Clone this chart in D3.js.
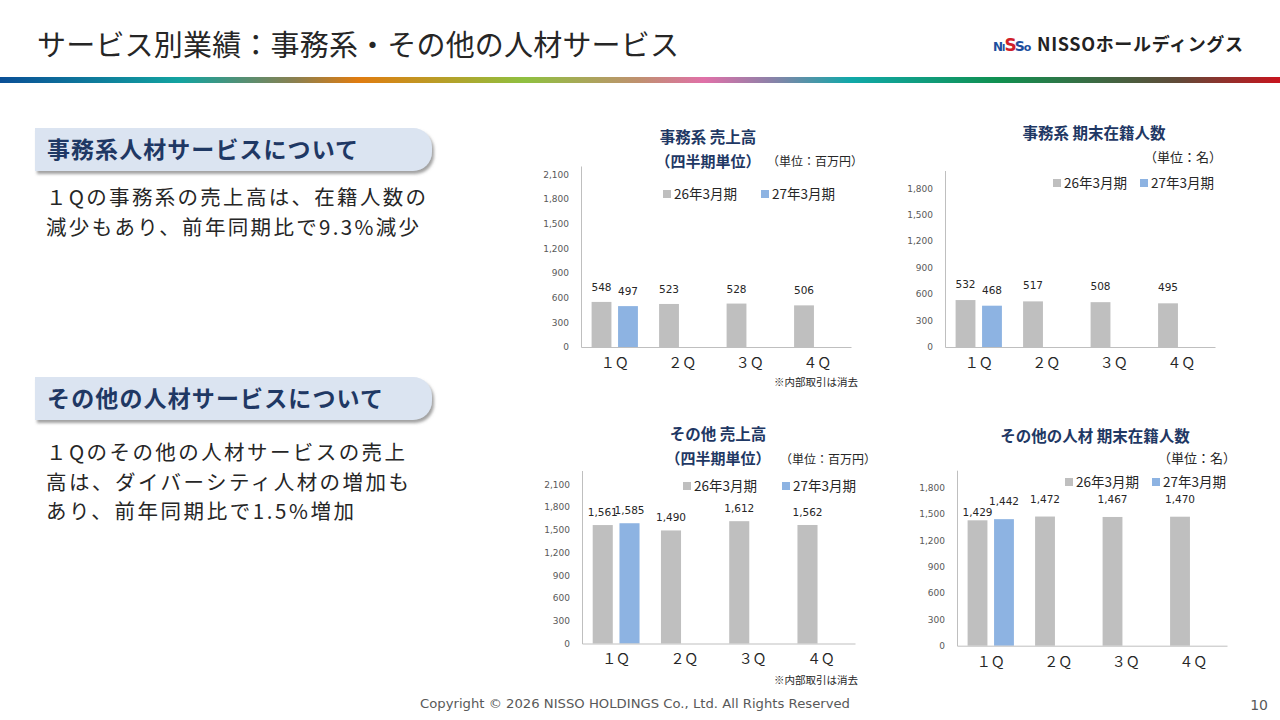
<!DOCTYPE html>
<meta charset="utf-8">
<title>サービス別業績</title>
<style>
body { margin: 0; background: #fff; }
svg { display: block; font-family: "Noto Sans CJK JP", sans-serif; }
.yaxis .tick text { font-family: "DejaVu Sans"; font-size: 9px; fill: #595959; }
.xaxis .tick text { font-family: "Noto Sans CJK JP"; font-size: 14px; fill: #262626; }
.axis path { stroke: #bfbfbf; }
.val { font-family: "DejaVu Sans"; font-size: 10.5px; fill: #262626; text-anchor: middle; }
</style>
<svg width="1280" height="720"></svg>
<script src="https://d3js.org/d3.v7.min.js"></script>
<script>

var quarters = ["１Ｑ", "２Ｑ", "３Ｑ", "４Ｑ"];
var seriesNames = ["26年3月期", "27年3月期"];

var jimuSales26 = [548, 523, 528, 506],
    jimuSales27 = [497];
var jimuStaff26 = [532, 517, 508, 495],
    jimuStaff27 = [468];
var otherSales26 = [1561, 1490, 1612, 1562],
    otherSales27 = [1585];
var otherStaff26 = [1429, 1472, 1467, 1470],
    otherStaff27 = [1442];

var salesTicks = [0, 300, 600, 900, 1200, 1500, 1800, 2100];
var staffTicks = [0, 300, 600, 900, 1200, 1500, 1800];

var colors = ["#bfbfbf", "#8db3e2"];
var navy = "#1f3864";

var svg = d3.select("svg");
var defs = svg.append("defs");

// rainbow rule under the title
var grad = defs.append("linearGradient").attr("id", "rule");
[[0, "#0a4f96"], [0.14, "#12a3a0"], [0.23, "#8a8050"], [0.28, "#e07c10"],
 [0.41, "#8fc040"], [0.5, "#c09070"], [0.55, "#e070a8"], [0.6, "#9080a8"],
 [0.665, "#10a8a8"], [0.78, "#109050"], [0.92, "#604a38"], [1, "#c8141e"]]
  .forEach(function(s) {
    grad.append("stop").attr("offset", s[0]).attr("stop-color", s[1]);
  });

var shadow = defs.append("filter").attr("id", "shadow")
    .attr("x", "-5%").attr("y", "-20%").attr("width", "115%").attr("height", "160%");
shadow.append("feDropShadow").attr("dx", 2).attr("dy", 3)
    .attr("stdDeviation", 1.5).attr("flood-color", "#8a8a8a").attr("flood-opacity", 0.8);

// header
svg.append("text").attr("x", 37).attr("y", 56)
    .attr("textLength", 642)
    .style("font-size", "29px").style("fill", "#262626")
    .text("サービス別業績：事務系・その他の人材サービス");

var logo = svg.append("text").attr("x", 993).attr("y", 51)
    .style("font-family", "DejaVu Sans").style("font-weight", "bold");
logo.append("tspan").style("font-size", "12px").style("fill", "#1d4e9e").text("N");
logo.append("tspan").style("font-size", "9px").style("fill", "#1d4e9e").attr("dx", -1).text("I");
logo.append("tspan").style("font-size", "17px").style("fill", "#d0202a").attr("dx", -1).text("S");
logo.append("tspan").style("font-size", "14px").style("fill", "#1d4e9e").attr("dx", -2).text("S");
logo.append("tspan").style("font-size", "11px").style("fill", "#1d4e9e").attr("dx", -1).text("o");

svg.append("text").attr("x", 1037).attr("y", 51)
    .attr("textLength", 206)
    .style("font-size", "18px").style("font-weight", "bold").style("fill", "#222")
    .text("NISSOホールディングス");

svg.append("rect").attr("x", 0).attr("y", 77).attr("width", 1280).attr("height", 6)
    .attr("fill", "url(#rule)");

// left side headings and comments
function heading(y, label, len) {
  var x0 = 35, x1 = 432, h = 43, r = 19;
  svg.append("path")
      .attr("d", "M" + x0 + "," + y + "H" + (x1 - r) + "A" + r + "," + r + " 0 0 1 " + x1 + "," + (y + r) +
                 "V" + (y + h - r) + "A" + r + "," + r + " 0 0 1 " + (x1 - r) + "," + (y + h) + "H" + x0 + "Z")
      .attr("fill", "#dbe4f1").attr("filter", "url(#shadow)");
  svg.append("text").attr("x", 47).attr("y", y + 30)
      .attr("textLength", len)
      .style("font-size", "23px").style("font-weight", "bold").style("fill", navy)
      .text(label);
}
heading(128, "事務系人材サービスについて", 311);
heading(377, "その他の人材サービスについて", 336);

function para(lines, lens, x, y) {
  lines.forEach(function(l, i) {
    svg.append("text").attr("x", x).attr("y", y + i * 29.5)
        .attr("textLength", lens[i])
        .style("font-size", "20.5px").style("fill", "#262626")
        .text(l);
  });
}
para(["１Qの事務系の売上高は、在籍人数の", "減少もあり、前年同期比で9.3%減少"],
     [380, 373], 46, 205);
para(["１Qのその他の人材サービスの売上", "高は、ダイバーシティ人材の増加も", "あり、前年同期比で1.5%増加"],
     [359, 363, 308], 46, 460);

// charts
var charts = [
  { left: 581, width: 270, base: 347, top: 166, max: 2200, ticks: salesTicks,
    data: [jimuSales26, jimuSales27], gap: 11, nudge: {},
    titles: [{ t: "事務系 売上高", x: 708, y: 143, b: true, s: 15.5 },
             { t: "（四半期単位）", x: 708, y: 167, b: true, s: 15 },
             { t: "（単位：百万円）", x: 815, y: 166, s: 12 }],
    legend: [663, 761, 190], note: [858, 386] },
  { left: 945, width: 270, base: 347, top: 170.5, max: 2000, ticks: staffTicks,
    data: [jimuStaff26, jimuStaff27], gap: 12, nudge: {},
    titles: [{ t: "事務系 期末在籍人数", x: 1094, y: 139, b: true, s: 15.5 },
             { t: "（単位：名）", x: 1183, y: 162, s: 13 }],
    legend: [1053, 1140, 179] },
  { left: 582, width: 273, base: 643.5, top: 470.5, max: 2280, ticks: salesTicks,
    data: [otherSales26, otherSales27], gap: 9, nudge: {},
    titles: [{ t: "その他 売上高", x: 718, y: 440, b: true, s: 15.5 },
             { t: "（四半期単位）", x: 718, y: 464, b: true, s: 15 },
             { t: "（単位：百万円）", x: 828, y: 464, s: 12 }],
    legend: [683, 782, 482], note: [858, 684] },
  { left: 957, width: 270, base: 645.7, top: 470.2, max: 2000, ticks: staffTicks,
    data: [otherStaff26, otherStaff27], gap: 14, nudge: { "0-0": 10 },
    titles: [{ t: "その他の人材 期末在籍人数", x: 1095, y: 442, b: true, s: 15.5 },
             { t: "（単位：名）", x: 1197, y: 463, s: 13 }],
    legend: [1065, 1152, 478] }
];

charts.forEach(function(c) {
  var g = svg.append("g");

  var x0 = d3.scaleBand().domain(quarters).range([c.left, c.left + c.width]).padding(0);
  var x1 = d3.scaleBand().domain([0, 1]).range([0, x0.bandwidth()])
      .paddingInner(0.25).paddingOuter(0.4);
  var y = d3.scaleLinear().domain([0, c.max]).range([c.base, c.top]);

  g.append("g").attr("class", "axis yaxis")
      .attr("transform", "translate(" + c.left + ",0)")
      .call(d3.axisLeft(y).tickValues(c.ticks).tickFormat(d3.format(","))
            .tickSize(0).tickPadding(12))
      .call(function(a) { a.selectAll(".tick line").remove(); });

  c.data.forEach(function(series, si) {
    series.forEach(function(v, qi) {
      var bx = x0(quarters[qi]) + x1(si);
      g.append("rect")
          .attr("x", bx).attr("y", y(v))
          .attr("width", x1.bandwidth()).attr("height", c.base - y(v))
          .attr("fill", colors[si]);
      g.append("text").attr("class", "val")
          .attr("x", bx + x1.bandwidth() / 2)
          .attr("y", y(v) - c.gap + (c.nudge[si + "-" + qi] || 0))
          .text(d3.format(",")(v));
    });
  });

  g.append("g").attr("class", "axis xaxis")
      .attr("transform", "translate(0," + c.base + ")")
      .call(d3.axisBottom(x0).tickSize(0).tickSizeOuter(0).tickPadding(11))
      .call(function(a) { a.selectAll(".tick line").remove(); });

  c.titles.forEach(function(t) {
    g.append("text").attr("x", t.x).attr("y", t.y).attr("text-anchor", "middle")
        .style("font-size", t.s + "px")
        .style("font-weight", t.b ? "bold" : "normal")
        .style("fill", t.b ? navy : "#262626")
        .text(t.t);
  });

  seriesNames.forEach(function(n, i) {
    var lx = c.legend[i];
    g.append("rect").attr("x", lx).attr("y", c.legend[2]).attr("width", 8).attr("height", 8)
        .attr("fill", colors[i]);
    g.append("text").attr("x", lx + 11).attr("y", c.legend[2] + 9)
        .style("font-size", "13.5px").style("fill", "#262626").text(n);
  });

  if (c.note) {
    g.append("text").attr("x", c.note[0]).attr("y", c.note[1]).attr("text-anchor", "end")
        .style("font-size", "10.5px").style("fill", "#262626").text("※内部取引は消去");
  }
});

// footer
svg.append("text").attr("x", 420).attr("y", 708)
    .attr("textLength", 430).attr("lengthAdjust", "spacingAndGlyphs")
    .style("font-family", "DejaVu Sans").style("font-size", "12px").style("fill", "#595959")
    .text("Copyright © 2026 NISSO HOLDINGS Co., Ltd. All Rights Reserved");
svg.append("text").attr("x", 1268).attr("y", 710).attr("text-anchor", "end")
    .style("font-family", "DejaVu Sans").style("font-size", "14px").style("fill", "#595959")
    .text("10");

</script>
